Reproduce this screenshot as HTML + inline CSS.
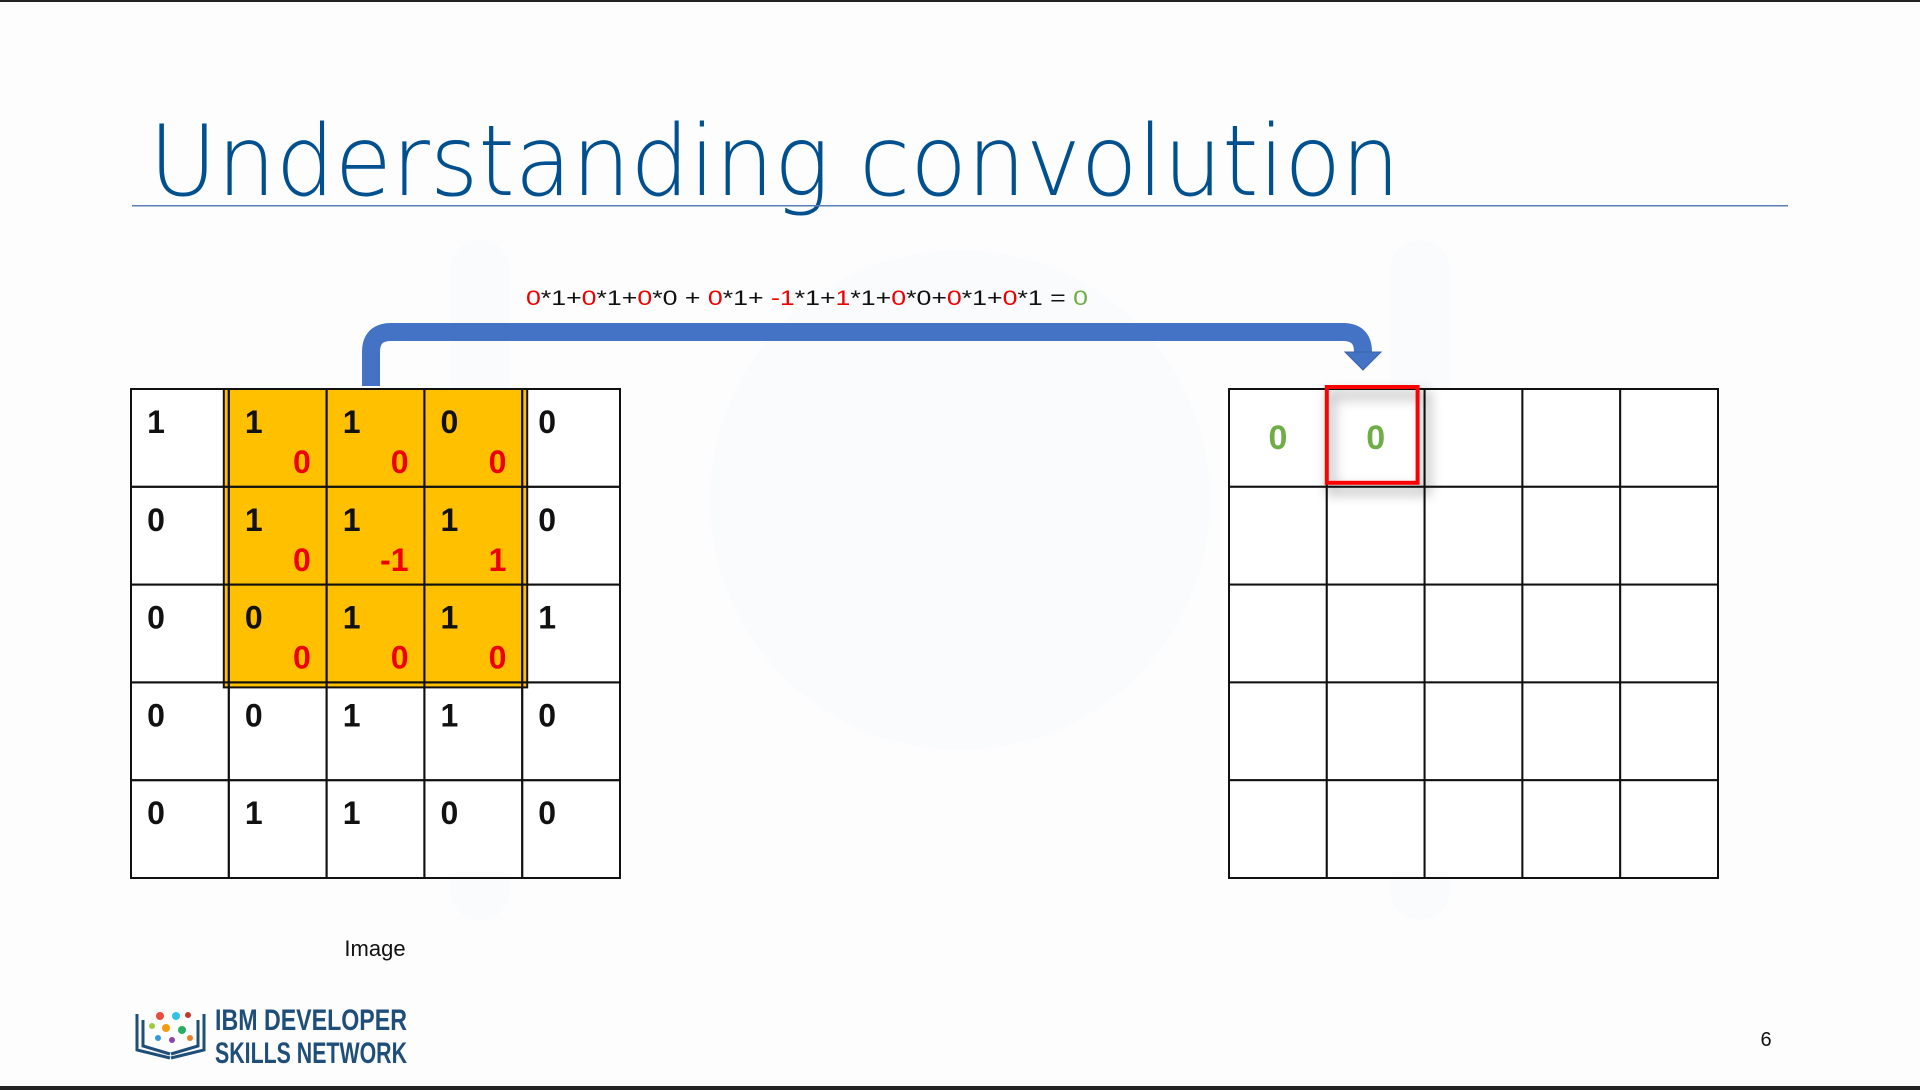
<!DOCTYPE html>
<html><head><meta charset="utf-8"><style>
html,body{margin:0;padding:0;background:#fff;}
svg{display:block;font-family:"Liberation Sans",sans-serif;}
</style></head><body>
<svg id="slide" width="1920" height="1090" viewBox="0 0 1920 1090" xmlns="http://www.w3.org/2000/svg">
<defs>
<filter id="sh" x="-30%" y="-30%" width="160%" height="160%"><feGaussianBlur stdDeviation="6"/></filter>
</defs>
<rect x="0" y="0" width="1920" height="1090" fill="#fdfdfe"/>
<g opacity="0.015" fill="#3a6aa0">
<rect x="450" y="240" width="60" height="680" rx="30"/><rect x="1390" y="240" width="60" height="680" rx="30"/>
<circle cx="960" cy="500" r="250"/>
</g>
<rect x="0" y="0" width="1920" height="2" fill="#222"/>
<rect x="0" y="1086" width="1920" height="4" fill="#222"/>
<text x="149" y="195" font-size="98" fill="#00508f" font-family="'DejaVu Sans ExtraLight','DejaVu Sans','Liberation Sans',sans-serif" font-weight="200" textLength="1251" lengthAdjust="spacingAndGlyphs">Understanding convolution</text>
<rect x="132" y="205" width="1656" height="1.5" fill="#5a7dbb"/>
<text x="526" y="305" font-size="21" fill="#111" textLength="562" lengthAdjust="spacingAndGlyphs"><tspan fill="#e00">0</tspan>*1+<tspan fill="#e00">0</tspan>*1+<tspan fill="#e00">0</tspan>*0 + <tspan fill="#e00">0</tspan>*1+ <tspan fill="#e00">-1</tspan>*1+<tspan fill="#e00">1</tspan>*1+<tspan fill="#e00">0</tspan>*0+<tspan fill="#e00">0</tspan>*1+<tspan fill="#e00">0</tspan>*1 = <tspan fill="#70ad47">0</tspan></text>
<path d="M371 386 L371 352 Q371 332 391 332 L1343 332 Q1363 332 1363 352 L1363 354" fill="none" stroke="#4472c4" stroke-width="18"/>
<path d="M1345 352 L1381 352 L1363 370 Z" fill="#4472c4" stroke="#3a62a8" stroke-width="1"/>
<g id="left"></g>
<g id="right"></g>
<text x="375" y="956" font-size="22" fill="#111" text-anchor="middle">Image</text>
<text x="1766" y="1046" font-size="20" fill="#111" text-anchor="middle">6</text>
<g>
<path d="M137 1014 L137 1050 L170 1058 M143 1020 L143 1046 L170 1054 M204 1014 L204 1050 L171 1058 M198 1020 L198 1046 L171 1054" fill="none" stroke="#1f4e79" stroke-width="3"/>
<circle cx="160" cy="1016" r="4" fill="#e84c3d"/><circle cx="176" cy="1016" r="4" fill="#2ec4e8"/><circle cx="188" cy="1015" r="3" fill="#c0392b"/><circle cx="152" cy="1026" r="3" fill="#9ccc3c"/><circle cx="166" cy="1028" r="4" fill="#f39c12"/><circle cx="182" cy="1030" r="4" fill="#27ae60"/><circle cx="172" cy="1040" r="3" fill="#8e44ad"/><circle cx="190" cy="1038" r="3" fill="#e67e22"/><circle cx="158" cy="1038" r="3" fill="#3498db"/>
<text x="215" y="1030" font-size="30" font-weight="bold" fill="#1f4e79" textLength="192" lengthAdjust="spacingAndGlyphs">IBM DEVELOPER</text>
<text x="215" y="1063" font-size="30" font-weight="bold" fill="#1f4e79" textLength="192" lengthAdjust="spacingAndGlyphs">SKILLS NETWORK</text>
</g>
</svg>
<script>
const imageValues = [[1,1,1,0,0],[0,1,1,1,0],[0,0,1,1,1],[0,0,1,1,0],[0,1,1,0,0]];
const kernelValues = [[0,0,0],[0,-1,1],[0,0,0]];
const kernelRow = 0;
const kernelCol = 1;
const outputValues = [[0,0]];
const NS = "http://www.w3.org/2000/svg";
function mk(tag, attrs, parent){const e=document.createElementNS(NS,tag);for(const k in attrs)e.setAttribute(k,attrs[k]);parent.appendChild(e);return e;}
const L = {x:131, y:389, c:97.8};
const R = {x:1229, y:389, c:97.8};
const lg = document.getElementById('left');
const rg = document.getElementById('right');
const bgL = mk('rect',{x:L.x,y:L.y,width:L.c*5,height:L.c*5,fill:'#fff'},lg);


const kx = L.x + kernelCol*L.c, ky = L.y + kernelRow*L.c;
const yel = mk('rect',{x:kx-5,y:ky,width:L.c*3+10,height:L.c*3+5,fill:'#ffc000',stroke:'#111','stroke-width':2},lg);


for(let r=0;r<imageValues.length;r++){for(let c=0;c<imageValues[r].length;c++){
  const x=L.x+c*L.c, y=L.y+r*L.c;
  const cell=mk('rect',{x:x,y:y,width:L.c,height:L.c,fill:'none',stroke:'#111','stroke-width':2},lg);
  
  
  const t=mk('text',{x:x+25,y:y+44,'font-size':32,'font-weight':'bold',fill:'#111','text-anchor':'middle'},lg);
  t.textContent=imageValues[r][c];
  
  
}}
for(let r=0;r<kernelValues.length;r++){for(let c=0;c<kernelValues[r].length;c++){
  const x=L.x+(kernelCol+c)*L.c, y=L.y+(kernelRow+r)*L.c;
  const t=mk('text',{x:x+82,y:y+84,'font-size':32,'font-weight':'bold',fill:'#e00','text-anchor':'end'},lg);
  t.textContent=kernelValues[r][c];
  
  
}}
for(let r=0;r<5;r++){for(let c=0;c<5;c++){
  const cell=mk('rect',{x:R.x+c*R.c,y:R.y+r*R.c,width:R.c,height:R.c,fill:'#fff',stroke:'#111','stroke-width':2},rg);
  
  
}}
const cur = outputValues[0].length-1;
const shadow=mk('rect',{x:R.x+cur*R.c+4,y:R.y+6,width:R.c-2,height:R.c-2,fill:'none',stroke:'#000','stroke-width':8,opacity:0.25,filter:'url(#sh)'},rg);


const box=mk('rect',{x:R.x+cur*R.c,y:R.y-2,width:R.c-7,height:R.c-2,fill:'none',stroke:'#ff0000','stroke-width':4},rg);


for(let r=0;r<outputValues.length;r++){for(let c=0;c<outputValues[r].length;c++){
  const t=mk('text',{x:R.x+c*R.c+R.c/2,y:R.y+r*R.c+60,'font-size':34,'font-weight':'bold',fill:'#70ad47','text-anchor':'middle'},rg);
  t.textContent=outputValues[r][c];
  
  
}}
</script>
</body></html>
